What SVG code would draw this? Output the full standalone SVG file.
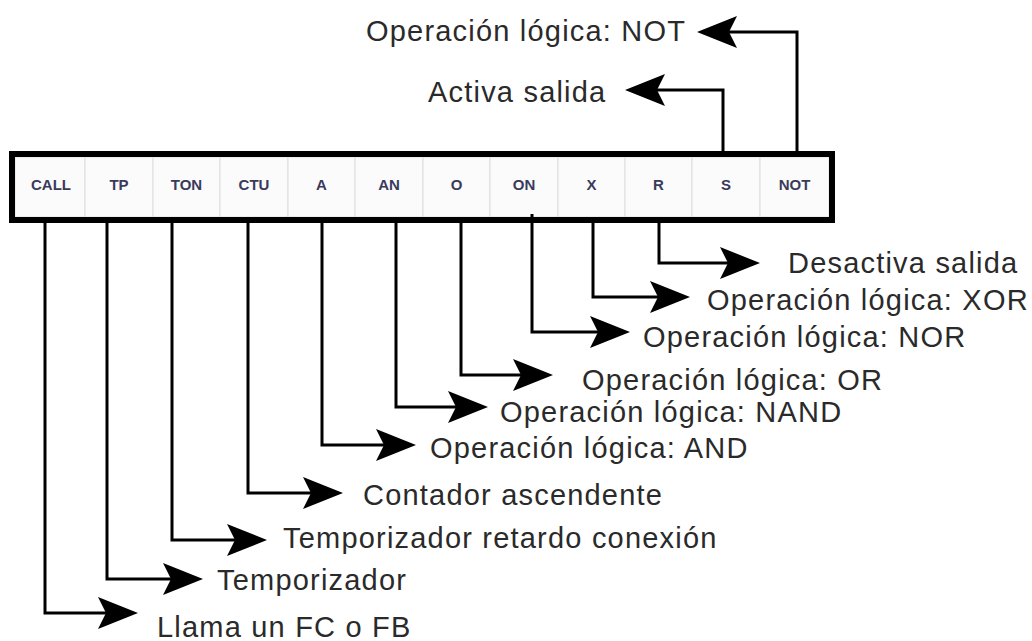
<svg xmlns="http://www.w3.org/2000/svg" width="1032" height="641" viewBox="0 0 1032 641">
  <style>
    .cell { fill: #fbfbfb; stroke: #dedede; stroke-width: 1; }
    .frame { fill: none; stroke: #000; stroke-width: 6; }
    .op { font-family: "Liberation Sans", Arial, sans-serif; font-size: 15px; font-weight: bold; fill: #3a3a5c; text-anchor: middle; }
    .lbl { font-family: "Liberation Sans", Arial, sans-serif; font-size: 29px; letter-spacing: 1.2px; fill: #2a2a2a; }
    .wire { fill: none; stroke: #000; stroke-width: 3; stroke-linejoin: miter; marker-end: url(#head); }
  </style>
  <defs>
    <marker id="head" markerUnits="userSpaceOnUse" viewBox="0 0 40 32" refX="8" refY="16" markerWidth="40" markerHeight="32" orient="auto">
      <path d="M0,0 L40,16 L0,32 L8,16 Z" fill="#000"/>
    </marker>
  </defs>

  <rect x="0" y="0" width="1032" height="641" fill="#fff"/>

  <!-- instruction toolbar -->
  <g id="toolbar">
    <g id="cell-call"><rect class="cell" x="15" y="157" width="70" height="60"/><text class="op" x="51" y="190">CALL</text></g>
    <g id="cell-tp"><rect class="cell" x="85" y="157" width="68" height="60"/><text class="op" x="119" y="190">TP</text></g>
    <g id="cell-ton"><rect class="cell" x="153" y="157" width="67" height="60"/><text class="op" x="186.5" y="190">TON</text></g>
    <g id="cell-ctu"><rect class="cell" x="220" y="157" width="68" height="60"/><text class="op" x="254" y="190">CTU</text></g>
    <g id="cell-a"><rect class="cell" x="288" y="157" width="67" height="60"/><text class="op" x="321.5" y="190">A</text></g>
    <g id="cell-an"><rect class="cell" x="355" y="157" width="68" height="60"/><text class="op" x="389" y="190">AN</text></g>
    <g id="cell-o"><rect class="cell" x="423" y="157" width="67" height="60"/><text class="op" x="456.5" y="190">O</text></g>
    <g id="cell-on"><rect class="cell" x="490" y="157" width="68" height="60"/><text class="op" x="524" y="190">ON</text></g>
    <g id="cell-x"><rect class="cell" x="558" y="157" width="67" height="60"/><text class="op" x="591.5" y="190">X</text></g>
    <g id="cell-r"><rect class="cell" x="625" y="157" width="67" height="60"/><text class="op" x="658.5" y="190">R</text></g>
    <g id="cell-s"><rect class="cell" x="692" y="157" width="68" height="60"/><text class="op" x="726" y="190">S</text></g>
    <g id="cell-not"><rect class="cell" x="760" y="157" width="69" height="60"/><text class="op" x="794.5" y="190">NOT</text></g>
    <rect class="frame" x="12" y="154" width="820" height="66"/>
  </g>

  <!-- leader lines from each instruction to its description -->
  <g id="connectors">
    <path class="wire" d="M45,223 V613 H106"/>
    <path class="wire" d="M107,223 V579 H171"/>
    <path class="wire" d="M172,223 V540 H235"/>
    <path class="wire" d="M248,223 V493 H311"/>
    <path class="wire" d="M322,223 V445 H384"/>
    <path class="wire" d="M396,223 V407 H456"/>
    <path class="wire" d="M461,223 V375 H521"/>
    <path class="wire" d="M532,214 V332 H598"/>
    <path class="wire" d="M593,223 V297 H658"/>
    <path class="wire" d="M659,223 V263 H728"/>
    <path class="wire" d="M723,151 V90 H657"/>
    <path class="wire" d="M797,151 V32 H729"/>
  </g>

  <!-- descriptions -->
  <g id="desc-not"><text class="lbl" x="366" y="41">Operación lógica: NOT</text></g>
  <g id="desc-s"><text class="lbl" x="428" y="102">Activa salida</text></g>
  <g id="desc-r"><text class="lbl" x="788" y="273">Desactiva salida</text></g>
  <g id="desc-x"><text class="lbl" x="707" y="310">Operación lógica: XOR</text></g>
  <g id="desc-on"><text class="lbl" x="643" y="347">Operación lógica: NOR</text></g>
  <g id="desc-o"><text class="lbl" x="582" y="390">Operación lógica: OR</text></g>
  <g id="desc-an"><text class="lbl" x="500" y="422">Operación lógica: NAND</text></g>
  <g id="desc-a"><text class="lbl" x="430" y="458">Operación lógica: AND</text></g>
  <g id="desc-ctu"><text class="lbl" x="363" y="505">Contador ascendente</text></g>
  <g id="desc-ton"><text class="lbl" x="283" y="548">Temporizador retardo conexión</text></g>
  <g id="desc-tp"><text class="lbl" x="217" y="590">Temporizador</text></g>
  <g id="desc-call"><text class="lbl" x="157" y="637">Llama un FC o FB</text></g>
</svg>
